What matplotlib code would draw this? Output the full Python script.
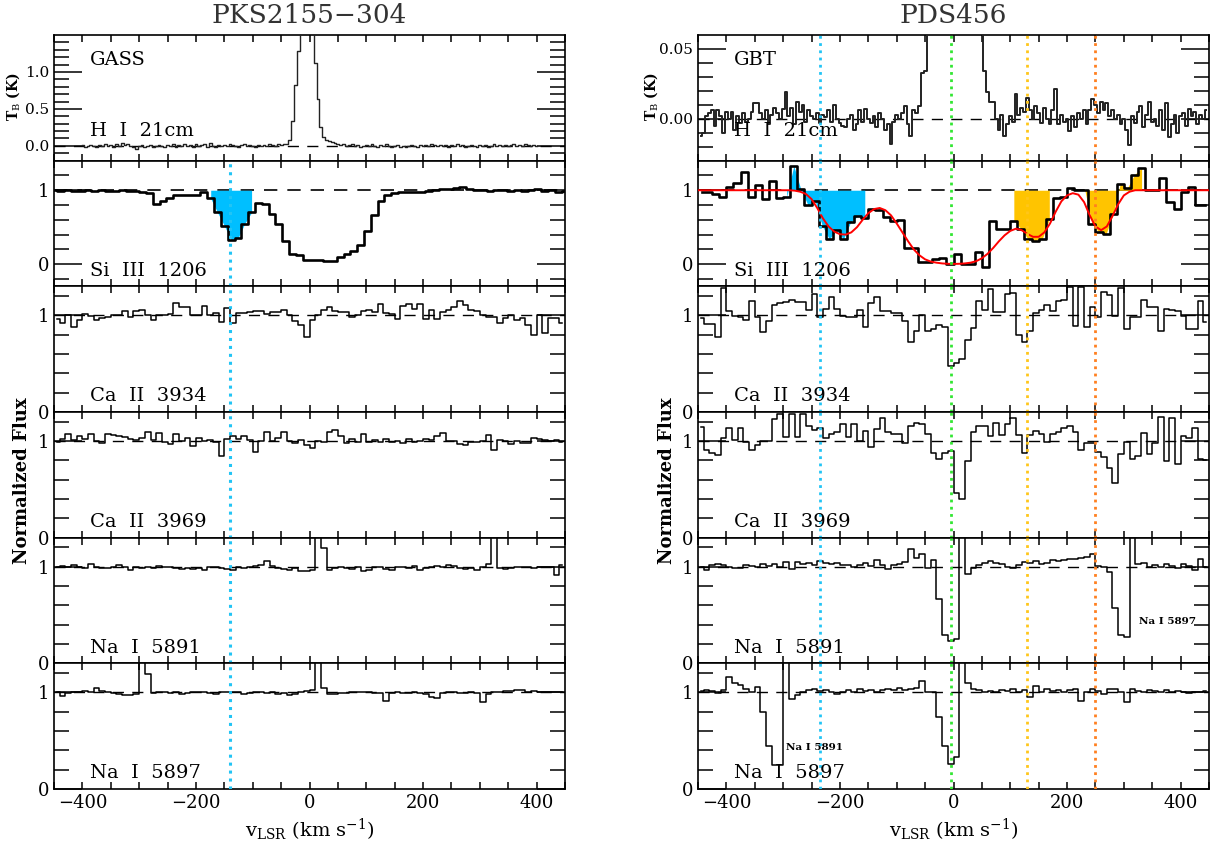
import matplotlib
matplotlib.use("Agg")
import matplotlib.pyplot as plt
from matplotlib.ticker import MultipleLocator, FixedLocator
import numpy as np

plt.rcParams['font.family'] = 'DejaVu Serif'
plt.rcParams['mathtext.fontset'] = 'dejavuserif'

# ---------------- data ----------------
# PKS2155-304, GASS HI 21cm, 5 km/s channels
pks_hi_v = np.arange(-400, 401, 5)
pks_hi_t = [0.01, -0.01, 0.0, 0.01, 0.0, -0.01, 0.01, 0.0, 0.02, 0.0,
            0.01, -0.01, 0.02, 0.0, 0.04, 0.01, 0.02, 0.0, -0.01, -0.04,
            0.0, 0.01, -0.01, 0.0, 0.01, -0.01, 0.0, 0.01, 0.0, -0.01,
            0.01, 0.0, 0.02, -0.01, 0.01, 0.0, 0.02, 0.0, 0.01, -0.01,
            0.02, 0.0, 0.01, 0.03, -0.01, 0.04, 0.0, -0.01, 0.01, 0.0,
            0.01, 0.0, 0.02, 0.01, 0.0, -0.01, 0.01, 0.02, 0.0, 0.01,
            0.0, -0.01, 0.01, 0.0, 0.01, 0.0, 0.02, 0.01, 0.0, 0.02,
            0.01, 0.02, 0.02, 0.08, 0.34, 0.83, 1.28, 2.2, 2.6, 2.8,
            2.6, 2.0, 1.12, 0.63, 0.25, 0.12, 0.08, 0.06, 0.05, 0.04,
            0.02, 0.01, 0.03, 0.0, 0.01, 0.02, 0.0, 0.01, -0.01, 0.0,
            0.01, 0.0, 0.02, 0.0, -0.01, 0.01, 0.0, 0.02, 0.0, -0.01,
            0.0, 0.01, -0.01, 0.0, -0.02, 0.0, 0.01, 0.0, -0.01, 0.01,
            0.0, 0.01, 0.0, 0.02, 0.01, 0.0, 0.01, 0.0, 0.01, -0.01,
            0.01, 0.0, 0.03, 0.0, 0.01, -0.01, 0.0, 0.01, 0.0, -0.02,
            0.01, 0.0, 0.01, -0.01, 0.0, 0.02, 0.0, 0.01, 0.0, 0.01,
            0.0, 0.01, 0.02, 0.0, 0.01, 0.0, 0.02, 0.01, 0.0, 0.01,
            0.0]

# PDS456, GBT HI 21cm, 5 km/s channels
pds_hi_v = np.arange(-445, 446, 5)
pds_hi_t = [-0.012, -0.010, 0.002, 0.004, 0.006, -0.005, 0.006, 0.002, -0.010, 0.005,
            0.000, 0.005, -0.008, 0.002, -0.003, 0.004, -0.002, 0.000, 0.005, 0.011,
            0.011, 0.004, 0.000, 0.006, -0.004, 0.003, 0.008, 0.004, 0.000, 0.007,
            0.019, 0.002, 0.008, -0.004, 0.012, 0.005, 0.010, -0.002, 0.006, 0.002,
            0.000, 0.004, -0.003, 0.003, 0.001, 0.006, -0.002, 0.010, 0.000, -0.003,
            -0.005, -0.006, 0.000, 0.003, -0.008, -0.004, 0.006, -0.002, 0.007, 0.000,
            -0.003, 0.002, -0.006, 0.004, 0.000, -0.008, -0.004, -0.018, -0.002, 0.003,
            0.000, 0.004, 0.009, -0.004, -0.012, 0.006, 0.004, 0.009, 0.033, 0.034,
            0.08, 0.2, 0.4, 0.6, 0.8, 1.0, 1.0, 1.0, 1.0, 1.0,
            1.0, 1.0, 0.8, 0.6, 0.4, 0.3, 0.2, 0.15, 0.1, 0.07,
            0.034, 0.019, 0.012, 0.012, 0.000, -0.008, 0.003, -0.012, -0.004, 0.002,
            -0.002, 0.018, 0.003, 0.008, 0.005, 0.015, 0.006, 0.000, 0.009, 0.004,
            -0.003, 0.008, 0.000, -0.004, 0.006, 0.021, -0.004, 0.003, -0.002, 0.000,
            -0.009, 0.002, -0.006, 0.004, 0.000, 0.006, -0.004, 0.006, 0.014, 0.010,
            0.004, 0.012, 0.006, 0.011, 0.002, 0.006, 0.000, 0.003, -0.004, 0.000,
            -0.008, -0.019, 0.002, -0.003, 0.005, 0.009, -0.006, 0.003, 0.012, -0.002,
            0.000, -0.005, 0.006, -0.008, 0.011, -0.013, -0.004, 0.003, -0.010, 0.002,
            0.004, -0.005, 0.007, 0.002, 0.005, -0.004, 0.003, 0.000, 0.006]

# Si III 1206
pks_si_v = np.arange(-450, 451, 12)
pks_si_f = [1.00, 0.99, 1.00, 0.99, 0.99, 1.00, 0.99, 1.00, 0.99, 0.99,
            1.00, 0.99, 0.99, 0.98, 0.96, 0.82, 0.86, 0.90, 0.93, 0.93,
            0.94, 0.94, 0.97, 0.89, 0.70, 0.52, 0.33, 0.35, 0.55, 0.70,
            0.83, 0.82, 0.68, 0.55, 0.31, 0.14, 0.13, 0.06, 0.055, 0.05,
            0.04, 0.045, 0.10, 0.14, 0.18, 0.26, 0.45, 0.66, 0.86, 0.93,
            0.96, 0.97, 0.97, 0.98, 0.98, 0.99, 1.00, 1.01, 1.02, 1.03,
            1.04, 1.01, 1.00, 1.00, 0.99, 1.00, 1.00, 0.99, 1.00, 0.99,
            1.00, 1.01, 0.99, 1.00, 0.98, 0.99]

pds_si_v = np.arange(-443.75, 444, 12.5)
pds_si_f = [0.98, 0.97, 0.95, 0.91, 1.04, 1.10, 1.24, 0.91, 1.07, 0.88,
            1.12, 0.89, 0.91, 1.33, 1.01, 0.80, 0.86, 0.52, 0.34, 0.46,
            0.34, 0.57, 0.65, 0.63, 0.75, 0.73, 0.64, 0.59, 0.60, 0.22,
            0.22, 0.03, 0.03, 0.07, 0.08, 0.00, 0.14, 0.00, 0.00, 0.17,
            -0.04, 0.58, 0.48, 0.48, 0.59, 0.48, 0.34, 0.32, 0.34, 0.61,
            0.89, 0.91, 1.03, 1.00, 1.00, 0.55, 0.43, 0.41, 0.68, 1.09,
            1.03, 1.21, 1.30, 1.00, 1.00, 1.16, 0.84, 0.75, 0.98, 1.04,
            0.80, 0.80]

# model fit to PDS456 Si III
fit_v = np.arange(-450, 451, 10)
fit_f = [1.0] * 15 + [
    1.00, 1.00, 0.995, 0.98, 0.95, 0.88, 0.76, 0.62, 0.51, 0.44,
    0.405, 0.40, 0.43, 0.50, 0.60, 0.69, 0.745, 0.76, 0.73, 0.66,
    0.55, 0.43, 0.31, 0.20, 0.12, 0.065, 0.035, 0.02, 0.01, 0.005,
    0.003, 0.005, 0.01, 0.02, 0.04, 0.08, 0.14, 0.22, 0.31, 0.39,
    0.45, 0.48, 0.46, 0.41, 0.37, 0.37, 0.43, 0.55, 0.71, 0.85,
    0.93, 0.96, 0.94, 0.84, 0.66, 0.51, 0.46, 0.51, 0.65, 0.81,
    0.93, 0.98, 1.00, 1.00] + [1.0] * 12

# optical lines, 10 km/s bins
opt_v = np.arange(-445, 450, 10)

pks_ca3934 = [0.96, 0.92, 1.00, 0.88, 0.95, 1.01, 0.99, 0.95, 0.97, 0.98,
              1.00, 1.00, 1.05, 0.98, 1.04, 1.06, 1.00, 0.95, 1.00, 1.00,
              1.01, 1.13, 1.09, 1.09, 1.00, 1.00, 1.10, 1.00, 1.02, 0.93,
              1.08, 0.92, 1.02, 1.02, 1.03, 1.04, 1.04, 1.01, 1.03, 1.03,
              1.06, 1.00, 0.94, 0.90, 0.78, 0.95, 1.00, 1.06, 1.09, 1.05,
              1.03, 1.03, 0.98, 1.00, 1.05, 1.06, 1.03, 1.12, 1.02, 1.01,
              0.96, 1.10, 1.12, 1.07, 1.12, 0.96, 1.06, 0.96, 1.03, 1.06,
              1.09, 1.15, 1.11, 1.06, 1.04, 1.00, 0.98, 0.98, 0.92, 0.97,
              1.00, 0.95, 0.97, 0.90, 0.80, 1.00, 0.82, 0.97, 0.97, 0.92]

pks_ca3969 = [0.99, 1.02, 1.07, 1.01, 1.05, 1.02, 1.07, 1.00, 0.98, 1.07,
              1.06, 1.05, 1.04, 1.02, 1.01, 1.03, 1.09, 1.01, 1.08, 0.99,
              0.97, 1.07, 1.00, 1.03, 0.95, 1.03, 1.00, 1.01, 0.99, 0.84,
              1.02, 1.05, 1.02, 1.05, 1.01, 0.89, 1.00, 1.09, 1.00, 1.03,
              1.09, 1.00, 0.98, 1.01, 0.96, 0.93, 1.00, 0.99, 1.09, 1.11,
              1.05, 0.98, 1.02, 0.99, 1.07, 0.99, 1.01, 0.99, 1.02, 0.99,
              1.00, 0.98, 1.02, 0.99, 1.00, 1.02, 1.01, 1.05, 1.08, 1.00,
              1.00, 0.97, 0.96, 0.99, 0.99, 1.00, 1.06, 0.91, 1.01, 1.00,
              0.97, 1.00, 0.98, 0.98, 1.03, 1.02, 1.01, 1.00, 1.01, 0.99]

pks_na5891 = [1.00, 1.01, 1.00, 1.02, 1.00, 0.99, 1.03, 1.00, 0.99, 0.99,
              1.00, 1.02, 1.00, 0.97, 1.00, 0.99, 1.00, 0.99, 1.01, 1.00,
              1.00, 0.99, 0.98, 0.99, 0.98, 0.99, 0.97, 1.00, 1.00, 0.99,
              0.98, 0.97, 1.00, 0.99, 1.00, 1.01, 1.02, 1.06, 1.01, 0.99,
              0.98, 0.97, 0.99, 0.96, 0.96, 0.97, 2.00, 1.19, 0.97, 0.99,
              1.00, 0.99, 0.98, 1.00, 0.96, 0.97, 1.00, 1.00, 0.98, 0.97,
              1.00, 1.00, 0.99, 1.01, 0.97, 0.99, 1.00, 1.01, 1.00, 1.02,
              1.01, 0.99, 0.98, 0.99, 0.97, 1.00, 1.03, 2.00, 0.99, 0.98,
              0.99, 1.00, 1.00, 1.00, 0.99, 1.00, 1.00, 1.00, 0.91, 1.02]

pks_na5897 = [1.00, 0.96, 0.99, 1.00, 1.00, 1.01, 1.00, 1.04, 1.01, 1.00,
              0.99, 0.98, 0.97, 0.97, 0.98, 2.00, 1.19, 0.99, 1.00, 1.00,
              0.99, 1.00, 0.98, 0.99, 1.00, 1.00, 1.00, 0.99, 0.98, 1.00,
              1.00, 1.00, 1.00, 0.98, 0.99, 1.00, 1.00, 0.99, 1.00, 0.98,
              0.99, 0.97, 0.98, 1.00, 1.01, 1.02, 2.00, 1.04, 0.98, 0.98,
              0.99, 0.99, 1.00, 1.00, 1.00, 1.00, 0.99, 0.99, 0.91, 0.99,
              1.00, 0.99, 0.99, 1.00, 0.99, 0.98, 0.95, 0.94, 0.99, 1.00,
              1.00, 0.99, 0.99, 1.00, 0.99, 0.90, 0.98, 1.00, 1.00, 1.01,
              1.01, 1.02, 1.02, 1.00, 1.01, 1.00, 1.00, 1.00, 1.00, 1.00]

pds_ca3934 = [0.97, 0.91, 0.91, 0.78, 1.28, 1.05, 0.99, 0.98, 0.95, 1.15,
              0.98, 0.83, 0.94, 1.11, 1.13, 1.14, 1.16, 1.14, 1.14, 1.06,
              1.22, 0.98, 1.07, 1.19, 1.07, 0.99, 0.98, 0.98, 1.06, 0.88,
              1.13, 1.19, 1.04, 1.04, 1.02, 1.02, 0.94, 0.72, 0.84, 1.00,
              0.84, 0.86, 0.90, 0.88, 0.48, 0.51, 0.55, 0.75, 0.87, 1.15,
              1.06, 1.27, 1.03, 1.03, 1.22, 1.23, 0.80, 0.72, 0.84, 1.02,
              1.06, 1.11, 1.05, 1.15, 1.16, 1.29, 0.89, 1.29, 0.88, 1.09,
              0.98, 1.24, 1.21, 0.99, 1.28, 0.86, 0.98, 0.98, 1.16, 1.09,
              1.09, 0.84, 1.07, 1.06, 1.04, 0.99, 0.86, 0.86, 1.15, 0.93]

pds_ca3969 = [1.15, 0.91, 0.88, 0.86, 1.03, 1.13, 1.01, 1.13, 0.99, 0.91,
              0.96, 1.00, 1.00, 1.23, 1.28, 1.04, 1.28, 1.04, 1.28, 1.16,
              1.11, 1.13, 1.03, 1.07, 1.09, 1.18, 1.04, 1.18, 1.00, 1.10,
              0.94, 1.12, 1.24, 1.09, 1.07, 1.07, 0.98, 1.16, 1.19, 1.18,
              1.07, 0.88, 0.81, 0.88, 0.90, 0.46, 0.40, 0.79, 1.09, 1.16,
              1.16, 1.05, 1.19, 1.06, 1.18, 1.24, 1.06, 0.88, 1.06, 1.10,
              1.07, 0.99, 1.07, 1.09, 1.13, 1.16, 1.09, 0.91, 0.98, 0.98,
              0.89, 0.83, 0.72, 0.57, 0.87, 0.99, 0.81, 0.84, 1.08, 0.87,
              0.98, 1.25, 0.79, 1.24, 0.76, 1.05, 1.03, 1.13, 0.81, 0.80]

pds_na5891 = [1.00, 0.97, 1.02, 1.03, 1.02, 1.00, 0.99, 0.99, 1.02, 1.01,
              1.00, 1.03, 1.01, 1.03, 1.00, 1.05, 0.98, 1.05, 1.03, 1.04,
              1.02, 1.06, 1.04, 1.03, 1.04, 1.02, 1.02, 1.00, 1.02, 1.04,
              1.01, 1.07, 1.02, 0.98, 1.02, 1.03, 1.05, 1.18, 1.09, 1.13,
              0.99, 1.07, 0.67, 0.29, 0.23, 0.25, 2.00, 0.92, 0.99, 1.02,
              1.04, 1.06, 1.04, 1.03, 1.00, 0.99, 1.02, 1.05, 1.04, 1.06,
              1.03, 1.04, 1.07, 1.06, 1.07, 1.08, 1.08, 1.09, 1.10, 1.13,
              1.01, 1.00, 0.94, 0.57, 0.29, 0.27, 2.00, 1.03, 1.04, 1.00,
              1.02, 1.00, 1.03, 1.01, 0.99, 1.03, 1.01, 0.97, 1.08, 1.00]

pds_na5897 = [1.01, 1.02, 1.01, 0.99, 1.02, 1.16, 1.10, 1.08, 1.03, 1.00,
              1.06, 0.80, 0.45, 0.25, 0.25, 2.00, 0.93, 0.97, 1.00, 1.02,
              1.03, 1.01, 1.02, 1.00, 0.98, 1.00, 1.02, 1.00, 1.03, 1.01,
              1.02, 1.00, 1.02, 1.03, 1.02, 1.04, 1.02, 1.03, 1.04, 1.12,
              1.00, 1.00, 0.75, 0.45, 0.26, 0.33, 2.00, 1.10, 1.03, 1.02,
              1.00, 1.01, 1.00, 1.02, 1.01, 1.03, 1.00, 1.02, 0.95, 1.07,
              1.00, 1.03, 1.01, 1.02, 1.00, 1.02, 1.03, 0.91, 1.00, 1.03,
              1.01, 0.98, 1.03, 1.03, 1.00, 0.90, 1.03, 1.01, 1.00, 1.02,
              1.01, 1.00, 1.02, 1.00, 1.01, 1.00, 0.99, 1.00, 1.00, 1.01]

pks_clouds = [-140]
pds_clouds = [-235, -5, 130, 250]
pds_cloud_colors = ['#22c4f5', '#33e633', '#ffc61a', '#ff8020']
pks_fill = [(-185, -93, '#00bfff')]
pds_fill = [(-295, -150, '#00bfff'), (95, 172, '#ffc400'), (212, 332, '#ffc400')]

# ---------------- layout ----------------
fig = plt.figure(figsize=(12.2, 8.5), dpi=100)
top, bottom = 1 - 35 / 850, 1 - 789 / 850
ph = (top - bottom) / 6
cols = [54 / 1220, 698 / 1220]
cw = 511 / 1220

ion_labels = ['H  I  21cm', 'Si  III  1206', 'Ca  II  3934', 'Ca  II  3969',
              'Na  I  5891', 'Na  I  5897']


def style(ax, ylim, major, minor, labels, last, ysize=13):
    ax.set_xlim(-450, 450)
    ax.set_ylim(*ylim)
    ax.xaxis.set_major_locator(MultipleLocator(200))
    ax.xaxis.set_minor_locator(MultipleLocator(50))
    ax.yaxis.set_major_locator(FixedLocator(major))
    ax.yaxis.set_minor_locator(FixedLocator(minor))
    ax.set_yticklabels(labels)
    ax.tick_params(which='both', direction='in', top=True, right=True,
                   width=1.1, labelsize=13)
    ax.tick_params(axis='y', which='major', length=20, labelsize=ysize)
    ax.tick_params(axis='y', which='minor', length=11)
    ax.tick_params(axis='x', which='both', length=5)
    if not last:
        ax.tick_params(axis='x', labelbottom=False)
    for s in ax.spines.values():
        s.set_linewidth(1.2)


def flux_panel(ax, v, f, last):
    ax.axhline(1, color='k', lw=1, dashes=(8, 6), zorder=1)
    ax.step(v, f, where='mid', color='k', lw=1.1, zorder=3)
    style(ax, (0, 1.3), [0, 1], [0.2, 0.4, 0.6, 0.8, 1.2], ['0', '1'], last)


for c, x0 in enumerate(cols):
    axes = [fig.add_axes([x0, top - (i + 1) * ph, cw, ph]) for i in range(6)]

    # HI 21cm
    ax = axes[0]
    ax.axhline(0, color='k', lw=1, dashes=(8, 6), zorder=1)
    if c == 0:
        ax.step(pks_hi_v, pks_hi_t, where='mid', color='#222222', lw=1.0, zorder=3)
        style(ax, (-0.2, 1.5), [0, 0.5, 1.0], np.arange(-0.1, 1.45, 0.1),
              ['0.0', '0.5', '1.0'], False, ysize=11)
        ax.text(0.07, 0.80, 'GASS', transform=ax.transAxes, fontsize=14, va='center')
    else:
        ax.step(pds_hi_v, pds_hi_t, where='mid', color='#222222', lw=1.4, zorder=3)
        style(ax, (-0.03, 0.06), [0, 0.05], [-0.02, -0.01, 0.01, 0.02, 0.03, 0.04],
              ['0.00', '0.05'], False, ysize=11)
        ax.text(0.07, 0.80, 'GBT', transform=ax.transAxes, fontsize=14, va='center')

    # Si III
    ax = axes[1]
    ax.axhline(1, color='k', lw=1.2, dashes=(8, 6), zorder=1)
    if c == 0:
        v, f, fills = pks_si_v, np.array(pks_si_f), pks_fill
    else:
        v, f, fills = pds_si_v, np.array(pds_si_f), pds_fill
    for lo, hi, col in fills:
        m = (v >= lo) & (v <= hi)
        ax.fill_between(v[m], f[m], 1, color=col, lw=0, zorder=2)
    ax.step(v, f, where='mid', color='k', lw=1.9, zorder=3)
    if c == 1:
        ax.plot(fit_v, fit_f, color='red', lw=1.4, zorder=4)
    style(ax, (-0.3, 1.4), [0, 1], [-0.2, 0.2, 0.4, 0.6, 0.8, 1.2], ['0', '1'], False)

    if c == 0:
        spectra = [pks_ca3934, pks_ca3969, pks_na5891, pks_na5897]
    else:
        spectra = [pds_ca3934, pds_ca3969, pds_na5891, pds_na5897]
    for i, f in enumerate(spectra):
        flux_panel(axes[i + 2], opt_v, f, i == 3)

    for i, ax in enumerate(axes):
        y = 0.235 if i == 0 else 0.125
        ax.text(0.07, y, ion_labels[i], transform=ax.transAxes, fontsize=14,
                va='center', zorder=6)

    # cloud velocities
    if c == 0:
        for ax in axes[1:]:
            ax.axvline(pks_clouds[0], color='#22c4f5', lw=2.2,
                       dashes=(1, 1.6), zorder=5)
    else:
        for ax in axes:
            for vc, col in zip(pds_clouds, pds_cloud_colors):
                ax.axvline(vc, color=col, lw=2.0, dashes=(1, 1.6), zorder=5)
        axes[4].text(327, 0.436, 'Na I 5897', fontsize=7.5, fontweight='bold',
                     va='center', zorder=6)
        axes[5].text(-295, 0.433, 'Na I 5891', fontsize=7.5, fontweight='bold',
                     va='center', zorder=6)

    xc = x0 + cw / 2
    title = 'PKS2155\u2212304' if c == 0 else 'PDS456'
    fig.text(xc, 0.982, title, ha='center', va='center', fontsize=19, color='#333333')
    fig.text(xc, 0.024, r'v$_{\rm LSR}$ (km s$^{-1}$)', ha='center', va='center',
             fontsize=14)
    lx = 22 / 1220 if c == 0 else 667 / 1220
    fig.text(lx, 0.435, 'Normalized Flux', rotation=90, ha='center', va='center',
             fontsize=13, fontweight='bold')
    tx = 13 / 1220 if c == 0 else 651 / 1220
    fig.text(tx, 0.886, r'T$_{\rm B}$ (K)', rotation=90, ha='center', va='center',
             fontsize=10, fontweight='bold')

fig.savefig('out.png', dpi=100)
